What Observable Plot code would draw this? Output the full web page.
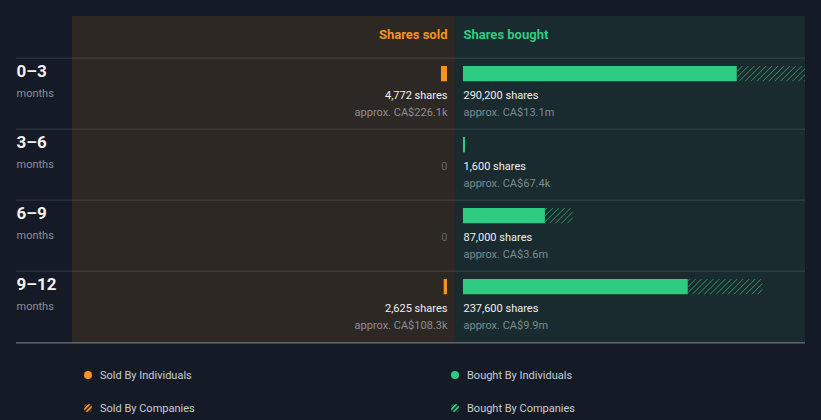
<!DOCTYPE html>
<html>
<head>
<meta charset="utf-8">
<script src="https://cdn.jsdelivr.net/npm/d3@7"></script>
<script src="https://cdn.jsdelivr.net/npm/@observablehq/plot@0.6"></script>
<style>
  html, body { margin: 0; padding: 0; background: #151b26; }
  body { width: 821px; height: 420px; overflow: hidden; font-family: Roboto, "Noto Sans", sans-serif; }
  #chart svg { display: block; }
  .legend { display: grid; grid-template-columns: 367px 1fr; row-gap: 14px; padding: 18px 0 0 84px; height: 52px; }
  .item { display: flex; align-items: center; height: 14px; font-size: 11px; color: #c9cdd2; }
  .item svg { margin-right: 8px; }
</style>
</head>
<body>
<div id="chart"></div>
<div class="legend" id="legend"></div>
<script>
// ---- data ----
const periods = ["0–3", "3–6", "6–9", "9–12"];
const soldIndividuals = [4772, 0, 0, 2625];
const soldCompanies = [0, 0, 0, 0];
const boughtIndividuals = [217300, 1600, 65000, 178400];
const boughtCompanies = [72900, 0, 22000, 59200];
const soldValue = ["CA$226.1k", "", "", "CA$108.3k"];
const boughtValue = ["CA$13.1m", "CA$67.4k", "CA$3.6m", "CA$9.9m"];
const headers = ["Shares sold", "Shares bought"];
const legendLabels = ["Sold By Individuals", "Bought By Individuals", "Sold By Companies", "Bought By Companies"];

// ---- style ----
const ORANGE = "#f7941d", GREEN = "#2ecc80";
const width = 821, height = 350, mTop = 56, mBottom = 7;
const bw = (height - mTop - mBottom) / periods.length;
const xDomain = [-348400, 277800];

const rows = periods.map((p, i) => ({
  period: p,
  soldInd: soldIndividuals[i], soldComp: soldCompanies[i],
  soldTotal: soldIndividuals[i] + soldCompanies[i],
  boughtInd: boughtIndividuals[i], boughtComp: boughtCompanies[i],
  boughtTotal: boughtIndividuals[i] + boughtCompanies[i],
  soldValue: soldValue[i], boughtValue: boughtValue[i]
}));
const fmt = d3.format(",");
const barOpts = {y: "period", insetTop: 8, insetBottom: bw - 24};

const plot = Plot.plot({
  width, height,
  marginTop: mTop, marginBottom: mBottom, marginLeft: 16, marginRight: 16,
  x: {domain: xDomain, axis: null},
  y: {domain: periods, padding: 0, axis: null},
  style: {background: "transparent", fontFamily: "Roboto, 'Noto Sans', sans-serif", overflow: "visible"},
  marks: [
    // panels
    Plot.barX([0], {x1: xDomain[0], x2: 0, insetLeft: 56, insetTop: -40, fill: "#2d2823"}),
    Plot.barX([0], {x1: 0, x2: xDomain[1], insetTop: -40, fill: "#192b2f"}),
    // row separators
    Plot.ruleY(periods, {y: d => d, dy: -bw / 2, stroke: "#ffffff", strokeOpacity: 0.13}),
    Plot.ruleY([periods[periods.length - 1]], {y: d => d, dy: bw / 2, stroke: "#7d8a90", strokeWidth: 1}),
    // headers
    Plot.text([headers[0]], {x: 0, text: d => d, frameAnchor: "top", lineAnchor: "middle", dy: -22, dx: -8, textAnchor: "end", fill: ORANGE, fontWeight: "bold", fontSize: 13}),
    Plot.text([headers[1]], {x: 0, text: d => d, frameAnchor: "top", lineAnchor: "middle", dy: -22, dx: 8, textAnchor: "start", fill: GREEN, fontWeight: "bold", fontSize: 13}),
    // row labels
    Plot.text(periods, {y: d => d, text: d => d, frameAnchor: "left", lineAnchor: "middle", textAnchor: "start", dy: -22, fill: "#f2f2f2", fontWeight: "bold", fontSize: 17}),
    Plot.text(periods, {y: d => d, text: () => "months", frameAnchor: "left", lineAnchor: "middle", textAnchor: "start", dy: -1, fill: "#8b9099", fontSize: 11}),
    // sold bars
    Plot.barX(rows.filter(d => d.soldInd > 0), {...barOpts, x1: 0, x2: d => -d.soldInd, insetLeft: -8, insetRight: 8, fill: ORANGE}),
    Plot.barX(rows.filter(d => d.soldComp > 0), {...barOpts, x1: d => -d.soldInd, x2: d => -d.soldTotal, insetLeft: -8, insetRight: 8, fill: "url(#hatch-orange)", clip: true}),
    // bought bars
    Plot.barX(rows.filter(d => d.boughtInd > 0), {...barOpts, x1: 0, x2: d => d.boughtInd, insetLeft: 8, insetRight: -8, fill: GREEN, clip: true}),
    Plot.barX(rows.filter(d => d.boughtComp > 0), {...barOpts, x1: d => d.boughtInd, x2: d => d.boughtTotal, insetLeft: 8, insetRight: -8, fill: "url(#hatch-green)", clip: true}),
    // sold labels
    Plot.text(rows.filter(d => d.soldTotal > 0), {x: 0, y: "period", text: d => fmt(d.soldTotal) + " shares", dx: -8, dy: 1, textAnchor: "end", fill: "#f0f0f0", fontSize: 11}),
    Plot.text(rows.filter(d => d.soldTotal > 0), {x: 0, y: "period", text: d => "approx. " + d.soldValue, dx: -8, dy: 18.5, textAnchor: "end", fill: "#8c8f93", fontSize: 11}),
    Plot.text(rows.filter(d => d.soldTotal === 0), {x: 0, y: "period", text: () => "0", dx: -8, dy: 1, textAnchor: "end", fill: "#646464", fontSize: 11}),
    // bought labels
    Plot.text(rows.filter(d => d.boughtTotal > 0), {x: 0, y: "period", text: d => fmt(d.boughtTotal) + " shares", dx: 8, dy: 1, textAnchor: "start", fill: "#f0f0f0", fontSize: 11}),
    Plot.text(rows.filter(d => d.boughtTotal > 0), {x: 0, y: "period", text: d => "approx. " + d.boughtValue, dx: 8, dy: 18.5, textAnchor: "start", fill: "#7f8c8d", fontSize: 11}),
    Plot.text(rows.filter(d => d.boughtTotal === 0), {x: 0, y: "period", text: () => "0", dx: 8, dy: 1, textAnchor: "start", fill: "#646464", fontSize: 11})
  ]
});

// hatch patterns
d3.select(plot).insert("defs", ":first-child").html(`
  <pattern id="hatch-green" patternUnits="userSpaceOnUse" width="4.2" height="4.2" patternTransform="rotate(45)">
    <line x1="0" y1="0" x2="0" y2="4.2" stroke="${GREEN}" stroke-opacity="0.7" stroke-width="1.4"/>
  </pattern>
  <pattern id="hatch-orange" patternUnits="userSpaceOnUse" width="4.2" height="4.2" patternTransform="rotate(45)">
    <line x1="0" y1="0" x2="0" y2="4.2" stroke="${ORANGE}" stroke-opacity="0.85" stroke-width="1.4"/>
  </pattern>`);
document.getElementById("chart").appendChild(plot);

// legend
const legendIcons = [
  `<circle cx="4" cy="4" r="4" fill="${ORANGE}"/>`,
  `<circle cx="4" cy="4" r="4" fill="${GREEN}"/>`,
  `<defs><pattern id="lg-o" patternUnits="userSpaceOnUse" width="3.2" height="3.2" patternTransform="rotate(45)"><line x1="0.9" y1="0" x2="0.9" y2="3.2" stroke="${ORANGE}" stroke-width="1.8"/></pattern></defs><circle cx="4" cy="4" r="4" fill="url(#lg-o)"/>`,
  `<defs><pattern id="lg-g" patternUnits="userSpaceOnUse" width="3.2" height="3.2" patternTransform="rotate(45)"><line x1="0.9" y1="0" x2="0.9" y2="3.2" stroke="${GREEN}" stroke-width="1.8"/></pattern></defs><circle cx="4" cy="4" r="4" fill="url(#lg-g)"/>`
];
const legend = document.getElementById("legend");
legendLabels.forEach((label, i) => {
  const item = document.createElement("div");
  item.className = "item";
  item.innerHTML = `<svg width="8" height="8" viewBox="0 0 8 8">${legendIcons[i]}</svg><span>${label}</span>`;
  legend.appendChild(item);
});
</script>
</body>
</html>
